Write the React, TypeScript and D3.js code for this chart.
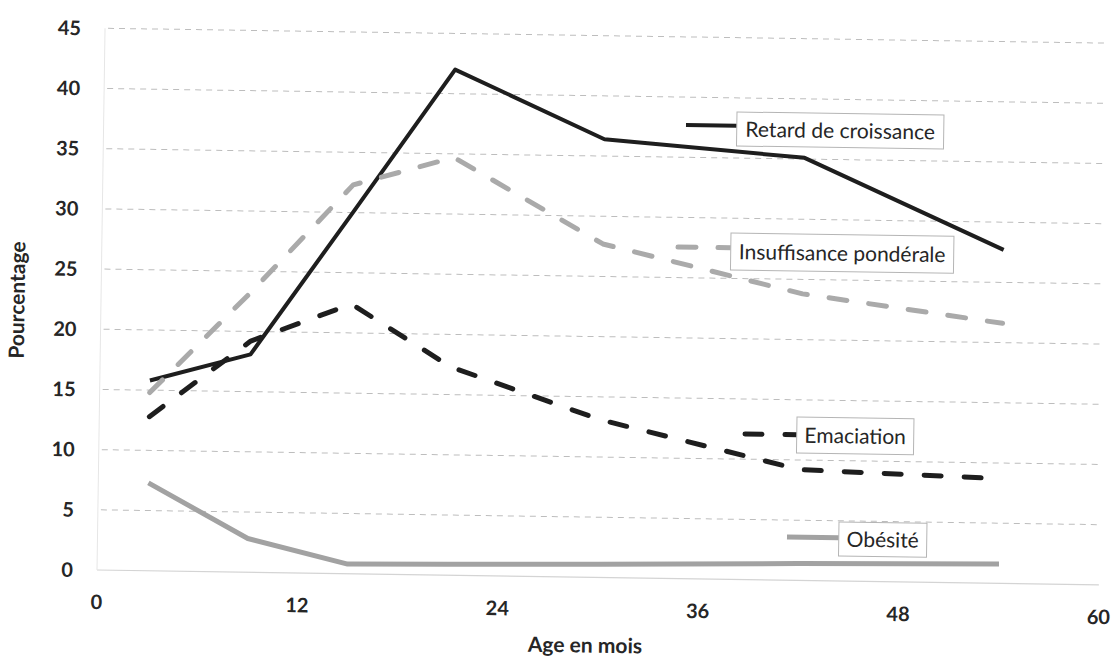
import React from "react";
import * as d3 from "d3";

// Age (months, midpoints of age groups)
const ages = [3, 9, 15, 21, 30, 42, 54];
// Percentages per series
const retard = [15.8, 18.1, 30.0, 42.0, 36.4, 35.1, 27.7];
const insuffisance = [14.8, 23.3, 32.3, 34.7, 27.7, 23.8, 21.6];
const emaciation = [12.8, 19.2, 22.4, 17.3, 13.1, 9.2, 8.7];
const obesite = [7.3, 2.8, 0.8, 0.9, 1.1, 1.4, 1.6];

const seriesNames = ["Retard de croissance", "Insuffisance pondérale", "Emaciation", "Obésité"];
const xTicks = [0, 12, 24, 36, 48, 60];
const yTicks = [0, 5, 10, 15, 20, 25, 30, 35, 40, 45];
const xTitle = "Age en mois";
const yTitle = "Pourcentage";

const W = 1113;
const H = 656;
const FONT = "Lato, 'Open Sans', sans-serif";

// the scanned page is slightly tilted: rotate the whole drawing about the origin
const TILT = 0.85;
const CX = 97;
const CY = 570;
const th = (TILT * Math.PI) / 180;
const unrot = (px: number, py: number): [number, number] => {
  const dx = px - CX;
  const dy = py - CY;
  return [CX + dx * Math.cos(th) + dy * Math.sin(th), CY - dx * Math.sin(th) + dy * Math.cos(th)];
};

export default function App() {
  const x = d3.scaleLinear().domain([0, 60]).range([CX, 1099]);
  const y = d3.scaleLinear().domain([0, 45]).range([CY, CY - 541.8]);

  const line = d3
    .line<[number, number]>()
    .x((d) => x(d[0]))
    .y((d) => y(d[1]));

  const pts = (vals: number[]) => ages.map((a, i) => [a, vals[i]] as [number, number]);

  const styles = [
    { stroke: "#1e1e1e", width: 4, dash: undefined as string | undefined, cap: "butt" },
    { stroke: "#aaaaaa", width: 5, dash: "18 22", cap: "round" },
    { stroke: "#1e1e1e", width: 5, dash: "17 23", cap: "round" },
    { stroke: "#a2a2a2", width: 5, dash: undefined as string | undefined, cap: "butt" },
  ];
  const data = [retard, insuffisance, emaciation, obesite];

  // label annotations as seen on the page (layout)
  const labels = [
    { x1: 686, ly: 125, bx: 737, by: 112, bw: 207, bh: 34 },
    { x1: 678, ly: 247, bx: 731, by: 233, bw: 223, bh: 37 },
    { x1: 745, ly: 434, bx: 797, by: 417, bw: 117, bh: 36 },
    { x1: 787, ly: 537, bx: 839, by: 522, bw: 88, bh: 34 },
  ];

  const xt = unrot(585, 645);
  const yt = unrot(17, 300);

  return (
    <svg width={W} height={H} style={{ position: "absolute", left: 0, top: 0, background: "#ffffff" }}>
      <rect x={0} y={0} width={W} height={H} fill="#ffffff" />
      <g transform={`rotate(${TILT},${CX},${CY})`}>
        {/* grid */}
        {yTicks.map((t) =>
          t === 0 ? null : (
            <line
              key={"g" + t}
              x1={x(0) + 3}
              x2={x(60)}
              y1={y(t)}
              y2={y(t)}
              stroke="#bdbdbd"
              strokeWidth={1}
              strokeDasharray="6 5"
            />
          )
        )}
        <line x1={x(0)} x2={x(60)} y1={y(0)} y2={y(0)} stroke="#d4d4d4" strokeWidth={1.2} />
        <line x1={x(0)} x2={x(0)} y1={y(45)} y2={y(0)} stroke="#e6e6e6" strokeWidth={1} />

        {/* y tick labels */}
        {yTicks.map((t) => (
          <text
            key={"yt" + t}
            x={x(0) - 24}
            y={y(t)}
            dy="0.36em"
            textAnchor="end"
            fontFamily={FONT}
            fontWeight={700}
            fontSize={20}
            fill="#262626"
          >
            {t}
          </text>
        ))}
        {/* x tick labels */}
        {xTicks.map((t) => (
          <text
            key={"xt" + t}
            x={x(t)}
            y={y(0) + 32}
            dy="0.36em"
            textAnchor="middle"
            fontFamily={FONT}
            fontWeight={700}
            fontSize={20}
            fill="#262626"
          >
            {t}
          </text>
        ))}
        {/* axis titles */}
        <text
          x={xt[0]}
          y={xt[1]}
          dy="0.36em"
          textAnchor="middle"
          fontFamily={FONT}
          fontWeight={700}
          fontSize={21}
          fill="#262626"
        >
          {xTitle}
        </text>
        <text
          transform={`translate(${yt[0]},${yt[1]}) rotate(-90)`}
          dy="0.36em"
          textAnchor="middle"
          fontFamily={FONT}
          fontWeight={700}
          fontSize={21}
          fill="#262626"
        >
          {yTitle}
        </text>

        {/* series */}
        {data.map((vals, i) => (
          <path
            key={"s" + i}
            d={line(pts(vals)) || ""}
            fill="none"
            stroke={styles[i].stroke}
            strokeWidth={styles[i].width}
            strokeDasharray={styles[i].dash}
            strokeLinecap={styles[i].cap as any}
            strokeLinejoin="round"
          />
        ))}

        {/* labels */}
        {labels.map((l, i) => {
          const [lx, ly] = unrot(l.x1, l.ly);
          const [bx, by] = unrot(l.bx, l.by);
          return (
            <g key={"l" + i}>
              <line
                x1={lx}
                x2={lx + (l.bx - l.x1)}
                y1={ly}
                y2={ly}
                stroke={styles[i].stroke}
                strokeWidth={styles[i].width}
                strokeDasharray={styles[i].dash}
                strokeLinecap={styles[i].cap as any}
              />
              <rect x={bx} y={by} width={l.bw} height={l.bh} fill="#ffffff" stroke="#b5b5b5" strokeWidth={1} />
              <text
                x={bx + l.bw / 2}
                y={by + l.bh / 2}
                dy="0.36em"
                textAnchor="middle"
                fontFamily={FONT}
                fontSize={21}
                fill="#262626"
              >
                {seriesNames[i]}
              </text>
            </g>
          );
        })}
      </g>
    </svg>
  );
}
